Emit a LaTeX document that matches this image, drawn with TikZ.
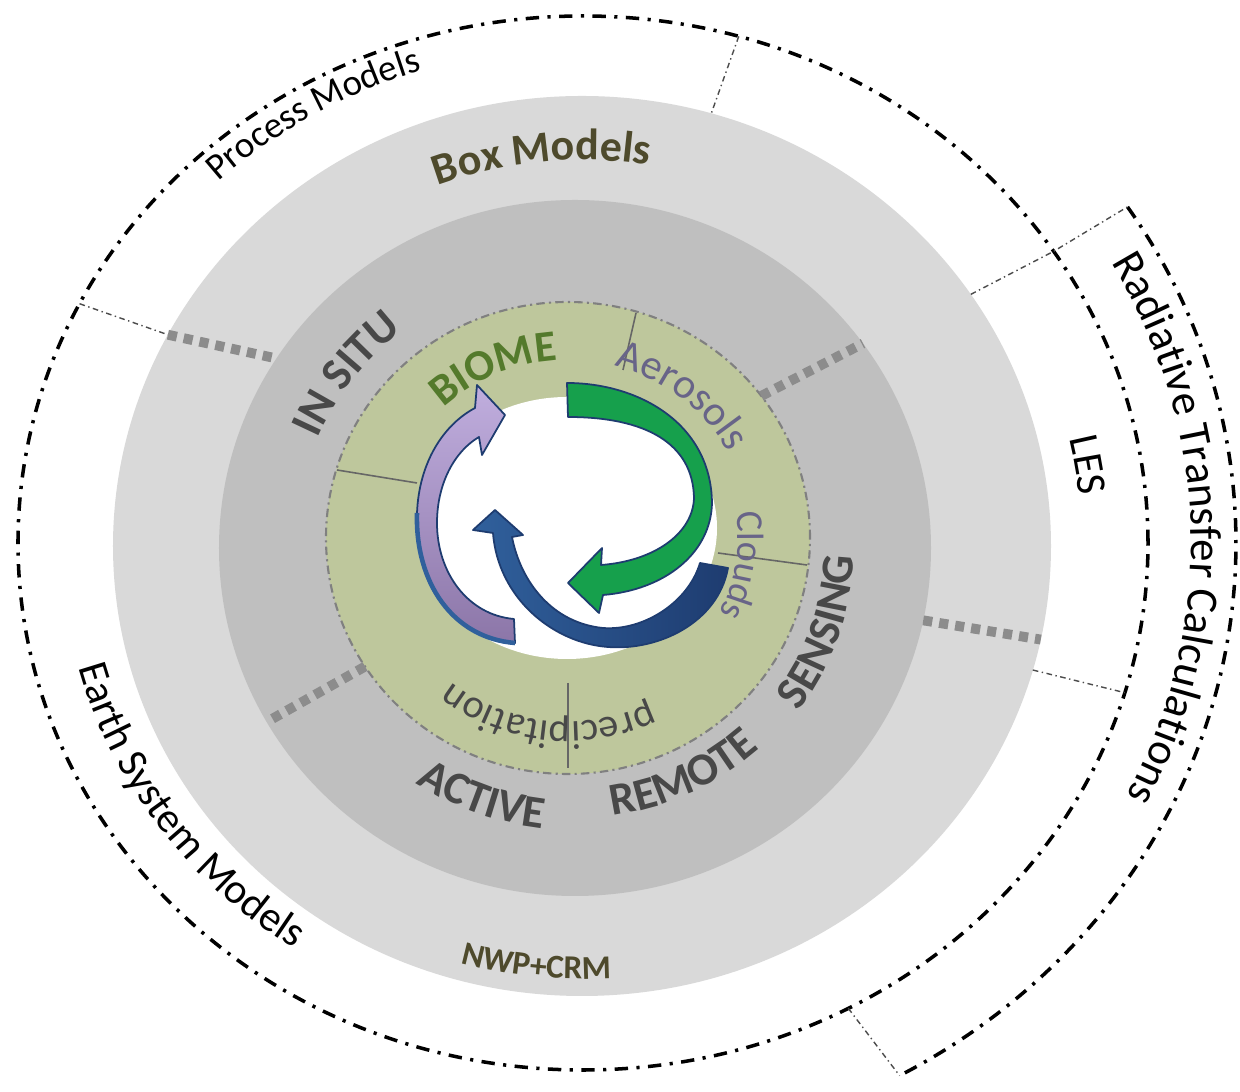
\documentclass[tikz,border=0pt]{standalone}
\usepackage{fontspec}
\setmainfont{Carlito}
\usetikzlibrary{calc, decorations.text}

\definecolor{lightring}{RGB}{217,217,217}
\definecolor{midring}{RGB}{191,191,191}
\definecolor{greenring}{RGB}{190,199,156}
\definecolor{ringedge}{RGB}{128,128,128}
\definecolor{sepgray}{RGB}{140,140,140}
\definecolor{olivetext}{RGB}{78,74,44}
\definecolor{biometext}{RGB}{84,122,44}
\definecolor{darktext}{RGB}{72,72,72}
\definecolor{mauvetext}{RGB}{104,100,136}
\definecolor{arrowgreen}{RGB}{22,160,76}
\definecolor{arrowblue}{RGB}{48,96,156}
\definecolor{arrownavy}{RGB}{30,60,112}
\definecolor{lavender}{RGB}{192,174,222}
\definecolor{mauve}{RGB}{140,118,168}

\newcommand{\ringfont}[1]{\fontsize{#1}{#1}\selectfont}

\begin{document}
\begin{tikzpicture}[x=0.01cm, y=0.01cm,
    arclabel/.style={decorate, decoration={text along path, text align=center, text={#1}}},
    sepline/.style={draw=black!70, line width=0.4pt, dash pattern=on 1.6pt off 1pt on 0.4pt off 1pt},
    sepdots/.style={draw=sepgray, line width=2.8pt, dash pattern=on 2.6pt off 2pt},
    modelring/.style={line width=1pt, dash pattern=on 3.8pt off 2.4pt on 0.9pt off 2.4pt},
    cutline/.style={draw=black!60, line width=0.45pt},
    ribbon/.style={draw=arrownavy, line width=0.5pt, line join=round}]

    \coordinate (O) at (0,0);
    \coordinate (L) at (-1,-3);
    \coordinate (M) at (-8,-5);
    \coordinate (G) at (-15,5);
    \coordinate (W) at (-16,15);

    \fill[white] (-583,-549) rectangle (657,543);
    \useasboundingbox (-583,-549) rectangle (657,543);

    % discs
    \fill[lightring] (L) ellipse [x radius=469, y radius=450];
    \fill[midring] (M) ellipse [x radius=356, y radius=348];
    \fill[greenring] (G) ellipse [x radius=242, y radius=236];
    \draw[ringedge, line width=0.6pt, dash pattern=on 2.4pt off 1.2pt on 0.6pt off 1.2pt]
        (G) ellipse [x radius=242, y radius=236];
    \fill[white] (W) ellipse [x radius=150, y radius=131];

    \draw[cutline] (53,230) -- (40,173);
    \draw[cutline] (-246,73) -- (-166,60);
    \draw[cutline] (135,-10) -- (224,-22);
    \draw[cutline] (-15,-140) -- (-15,-225);

    % outer model rings
    \draw[modelring] (O) ellipse [x radius=565, y radius=527];
    \draw[modelring] ($(O)+(33.5:653 and 609)$)
        arc[start angle=33.5, end angle=-61, x radius=653, y radius=609];

    \coordinate (big1) at ($(O)+(153:565 and 527)$);
    \coordinate (big2) at ($(O)+(74:565 and 527)$);
    \coordinate (big3) at ($(O)+(33.6:565 and 527)$);
    \coordinate (big4) at ($(O)+(-16.5:565 and 527)$);
    \coordinate (big5) at ($(O)+(-62:565 and 527)$);
    \coordinate (rad3) at ($(O)+(33.5:653 and 609)$);
    \coordinate (rad5) at ($(O)+(-61:653 and 609)$);
    \coordinate (lt1) at ($(L)+(152:469 and 450)$);
    \coordinate (lt2) at ($(L)+(74:469 and 450)$);
    \coordinate (lt3) at ($(L)+(34:469 and 450)$);
    \coordinate (lt4) at ($(L)+(-16:469 and 450)$);

    \draw[sepline] (big1) -- (lt1);
    \draw[sepline] (big2) -- (lt2);
    \draw[sepline] (lt3) -- (big3) -- (rad3);
    \draw[sepline] (lt4) -- (big4);
    \draw[sepline] (big5) -- (rad5);

    \draw[sepdots] ($(L)+(152:469 and 450)$) -- ($(M)+(147:356 and 348)$);
    \draw[sepdots] ($(G)+(37:242 and 236)$) -- ($(M)+(36:356 and 348)$);
    \draw[sepdots] ($(M)+(-12:356 and 348)$) -- ($(L)+(-12:469 and 450)$);
    \draw[sepdots] ($(G)+(213:242 and 236)$) -- ($(M)+(210:356 and 348)$);

    % cycle arrows
    \path[ribbon, left color=arrowblue, right color=arrownavy]
        (117,-20) -- (145,-25) .. controls (135,-80) and (75,-108) .. (25,-104)
        .. controls (-30,-100) and (-85,-55) .. (-90,10) -- (-110,13) -- (-88,33)
        -- (-60,8) -- (-71,6) .. controls (-62,-40) and (-30,-80) .. (20,-85)
        .. controls (60,-88) and (105,-60) .. (117,-20) -- cycle;
    \path[ribbon, top color=lavender, bottom color=mauve]
        (-69,-76) -- (-68,-100) .. controls (-130,-95) and (-168,-40) .. (-166,30)
        .. controls (-164,80) and (-140,118) .. (-108,135) -- (-106,158) -- (-78,128)
        -- (-101,88) -- (-104,106) .. controls (-128,92) and (-146,60) .. (-146,20)
        .. controls (-146,-30) and (-115,-72) .. (-69,-76) -- cycle;
    \draw[arrowblue, line width=1.3pt]
        (-68,-100) .. controls (-130,-95) and (-168,-40) .. (-166,30);
    \path[ribbon, fill=arrowgreen]
        (-16,160) .. controls (55,160) and (128,120) .. (129,40)
        .. controls (128,-10) and (82,-47) .. (20,-52) -- (16,-70) -- (-15,-40)
        -- (19,-5) -- (18,-22) .. controls (72,-18) and (110,10) .. (111,45)
        .. controls (110,100) and (62,126) .. (-15,126) -- cycle;

    % ring labels
    \path[arclabel={|\ringfont{12.5}\bfseries|Box Models}, decoration={text color=olivetext}]
        ($(L)+(145.8:402 and 386)$) arc[start angle=145.8, end angle=45.8, x radius=402, y radius=386];
    \path[arclabel={|\ringfont{9.5}\bfseries|NWP+CRM}, decoration={text color=olivetext}]
        ($(L)+(-146.1:451 and 433)$) arc[start angle=-146.1, end angle=-46.1, x radius=451, y radius=433];

    \path[arclabel={|\ringfont{13}\bfseries|IN SITU}, decoration={text color=darktext}]
        ($(M)+(192.5:281 and 275)$) arc[start angle=192.5, end angle=92.5, x radius=281, y radius=275];
    \path[arclabel={|\ringfont{13}\bfseries|ACTIVE}, decoration={text color=darktext}]
        ($(M)+(-150.2:288 and 282)$) arc[start angle=-150.2, end angle=-70.2, x radius=288, y radius=282];
    \path[arclabel={|\ringfont{13}\bfseries|REMOTE}, decoration={text color=darktext}]
        ($(M)+(-104.9:276 and 270)$) arc[start angle=-104.9, end angle=-24.9, x radius=276, y radius=270];
    \path[arclabel={|\ringfont{13}\bfseries|SENSING}, decoration={text color=darktext}]
        ($(M)+(-69:279 and 273)$) arc[start angle=-69, end angle=31, x radius=279, y radius=273];

    \path[arclabel={|\ringfont{12.5}\bfseries|BIOME}, decoration={text color=biometext}]
        ($(G)+(163.4:183 and 178)$) arc[start angle=163.4, end angle=63.4, x radius=183, y radius=178];
    \path[arclabel={|\ringfont{12}|Aerosols}, decoration={text color=mauvetext}]
        ($(G)+(101.7:183 and 178)$) arc[start angle=101.7, end angle=1.7, x radius=183, y radius=178];
    \path[arclabel={|\ringfont{10.8}|Clouds}, decoration={text color=mauvetext}]
        ($(G)+(41:170 and 166)$) arc[start angle=41, end angle=-59, x radius=170, y radius=166];
    \path[arclabel={|\ringfont{11.5}|precipitation}, decoration={text color=darktext}]
        ($(G)+(-26.4:188 and 184)$) arc[start angle=-26.4, end angle=-166.4, x radius=188, y radius=184];

    \path[arclabel={|\ringfont{10.5}|Process Models}]
        ($(O)+(150.8:532 and 496)$) arc[start angle=150.8, end angle=90.8, x radius=532, y radius=496];
    \path[arclabel={|\ringfont{12}|Earth System Models}]
        ($(O)+(169.9:522 and 487)$) arc[start angle=169.9, end angle=259.9, x radius=522, y radius=487];
    \path[arclabel={|\ringfont{12}|LES}]
        ($(O)+(39.2:499 and 466)$) arc[start angle=39.2, end angle=-20.8, x radius=499, y radius=466];
    \path[arclabel={|\ringfont{12.7}|Radiative Transfer Calculations}]
        ($(O)+(61.5:608 and 567)$) arc[start angle=61.5, end angle=-58.5, x radius=608, y radius=567];
\end{tikzpicture}
\end{document}
